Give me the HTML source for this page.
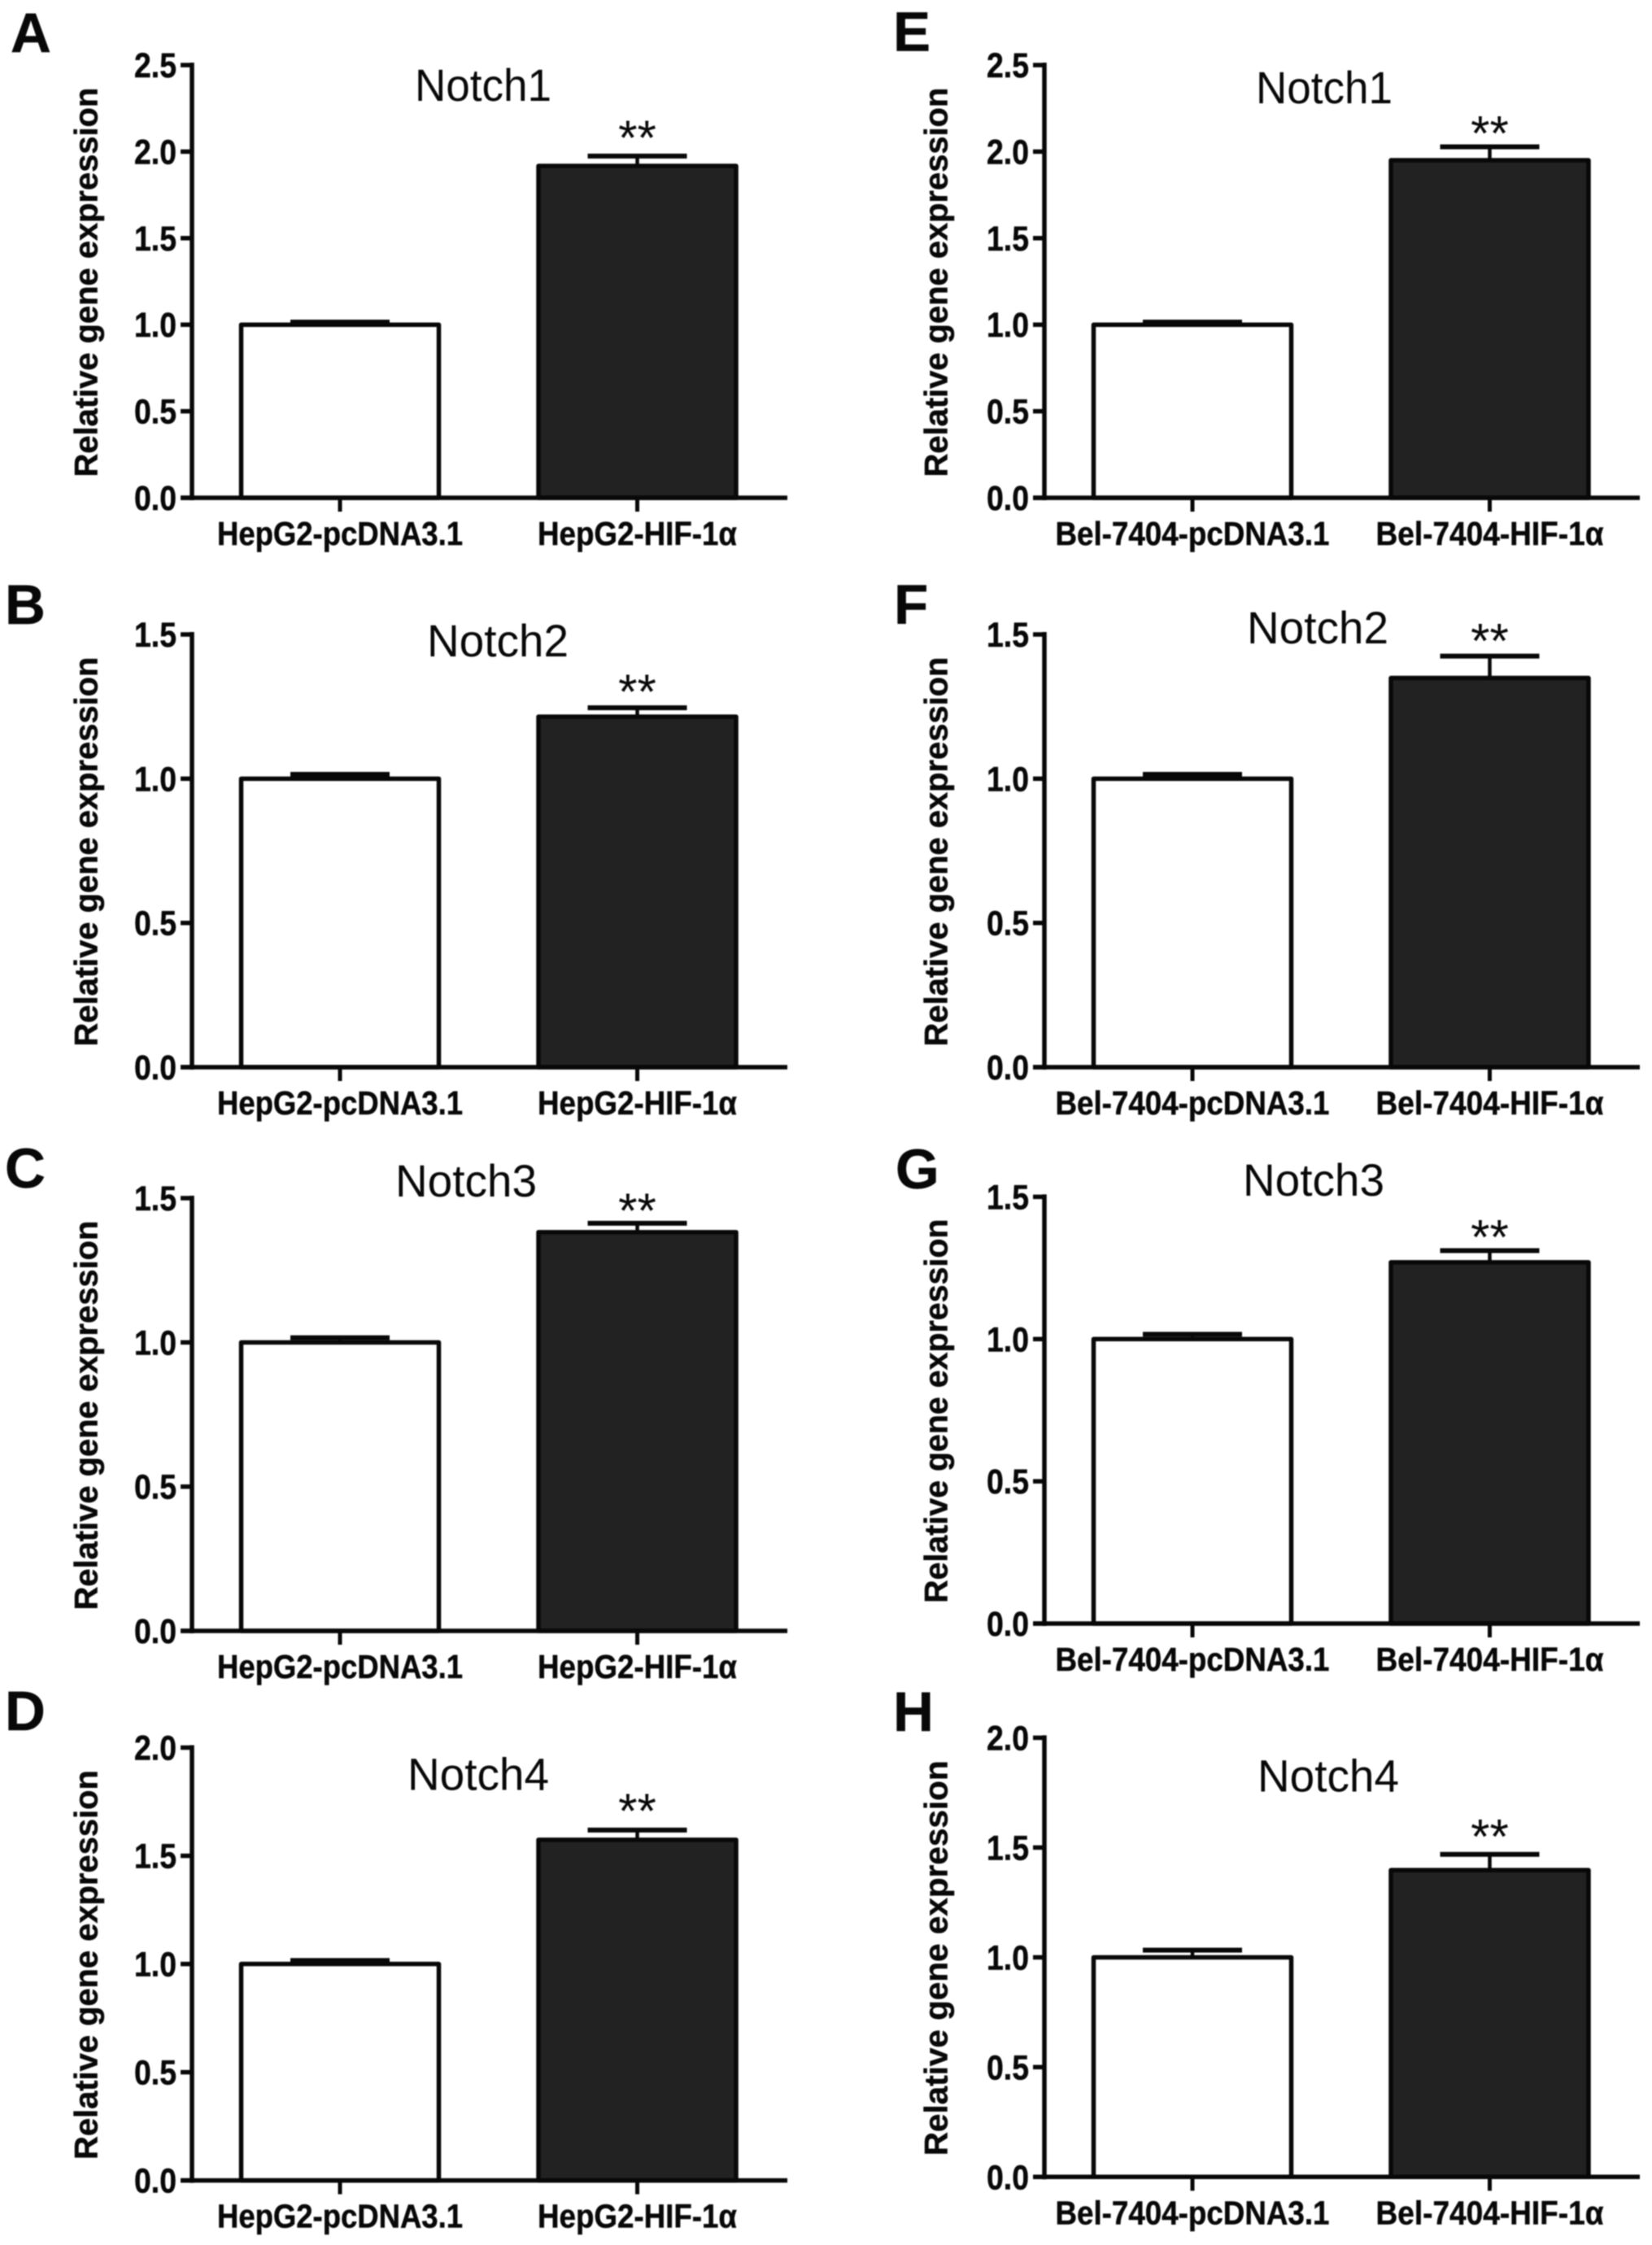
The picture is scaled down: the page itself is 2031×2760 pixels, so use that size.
<!DOCTYPE html>
<html lang="en">
<head>
<meta charset="utf-8">
<title>Relative Notch gene expression in HepG2 and Bel-7404 cells</title>
<style>
  html, body { margin: 0; padding: 0; background: #fff; }
  #figure { display: block; width: 2031px; height: 2760px; background: #fff; filter: blur(0.7px); }
  text { font-family: "Liberation Sans", Arial, sans-serif; fill: #080808; }
  .bold { font-weight: bold; stroke: #080808; stroke-width: 0.5px; }
</style>
</head>
<body>
<svg id="figure" xmlns="http://www.w3.org/2000/svg" width="2031" height="2760" viewBox="0 0 2031 2760"></svg>
<script>
// ---- chart data (panels A to H) ----
const panelLetters = ['A', 'B', 'C', 'D', 'E', 'F', 'G', 'H'];
const panelTitles = ['Notch1', 'Notch2', 'Notch3', 'Notch4', 'Notch1', 'Notch2', 'Notch3', 'Notch4'];
const axisMaxValues = [2.5, 1.5, 1.5, 2.0, 2.5, 1.5, 1.5, 2.0];
const tickLabels = [
  ['0.0', '0.5', '1.0', '1.5', '2.0', '2.5'],
  ['0.0', '0.5', '1.0', '1.5'],
  ['0.0', '0.5', '1.0', '1.5'],
  ['0.0', '0.5', '1.0', '1.5', '2.0'],
  ['0.0', '0.5', '1.0', '1.5', '2.0', '2.5'],
  ['0.0', '0.5', '1.0', '1.5'],
  ['0.0', '0.5', '1.0', '1.5'],
  ['0.0', '0.5', '1.0', '1.5', '2.0']
];
const hepG2Categories = ['HepG2-pcDNA3.1', 'HepG2-HIF-1α'];
const belCategories = ['Bel-7404-pcDNA3.1', 'Bel-7404-HIF-1α'];
const controlValues = [1.0, 1.0, 1.0, 1.0, 1.0, 1.0, 1.0, 1.0];
const controlErrors = [0.015, 0.015, 0.016, 0.016, 0.015, 0.015, 0.017, 0.033];
const hifValues = [1.917, 1.215, 1.382, 1.574, 1.95, 1.349, 1.27, 1.397];
const hifErrors = [0.057, 0.031, 0.031, 0.045, 0.078, 0.076, 0.041, 0.072];
const significanceMarks = ['**', '**', '**', '**', '**', '**', '**', '**'];
const yAxisTitle = 'Relative gene expression';

// ---- layout only (not data) ----
const plotTop = { A: 80, B: 780, C: 1473, D: 2148.5, E: 80, F: 780, G: 1471.4, H: 2136.4 };
const plotBase = { A: 612, B: 1312, C: 2005, D: 2680.6, E: 612, F: 1312, G: 1996, H: 2676.3 };
const titleAnchor = {
  A: [594, 124], B: [612, 807], C: [573, 1471], D: [588, 2200.5],
  E: [1628, 127], F: [1620, 791], G: [1615, 1470], H: [1633, 2202.7]
};
const letterAnchor = {
  A: [13, 64], B: [6, 767], C: [6, 1460], D: [6, 2127],
  E: [1098, 62.5], F: [1099, 767], G: [1101, 1461], H: [1098, 2128]
};
const starLift = { A: -2, B: 1, C: 5, D: -3, E: 4, F: 2, G: 4, H: -1 };
const labelWidths = { 'HepG2-pcDNA3.1': 302, 'HepG2-HIF-1α': 245, 'Bel-7404-pcDNA3.1': 337, 'Bel-7404-HIF-1α': 280 };

const SVG_NS = 'http://www.w3.org/2000/svg';
const figure = document.getElementById('figure');
const INK = '#080808';
const DARK_FILL = '#222';

function make(tag, attrs, parent, content) {
  const el = document.createElementNS(SVG_NS, tag);
  Object.keys(attrs).forEach(function (key) { el.setAttribute(key, attrs[key]); });
  if (content !== undefined) el.textContent = content;
  parent.appendChild(el);
  return el;
}

function drawPanel(index) {
  const letter = panelLetters[index];
  const key = letter.toLowerCase();
  const rightColumn = index >= 4;
  const shift = rightColumn ? 1048 : 0;
  const top = plotTop[letter];
  const base = plotBase[letter];
  const axisX = 236 + shift;
  const categories = rightColumn ? belCategories : hepG2Categories;

  // axis functions
  const yScale = function (v) { return base - (v / axisMaxValues[index]) * (base - top); };
  const xCenter = function (i) { return axisX + 182 + i * 365.5; };

  const group = make('g', {}, figure);
  
  

  const panelLetter = make('text', { x: letterAnchor[letter][0], y: letterAnchor[letter][1], 'font-size': 69, class: 'bold' }, group, letter);
  
  

  const title = make('text', {
    x: titleAnchor[letter][0], y: titleAnchor[letter][1], 'font-size': 56, 'text-anchor': 'middle',
    textLength: panelTitles[index].slice(-1) === '1' ? 168 : 174, lengthAdjust: 'spacingAndGlyphs'
  }, group, panelTitles[index]);
  
  

  const midY = (top + base) / 2 + 1;
  const yTitle = make('text', {
    x: 0, y: 0, 'font-size': 40, class: 'bold', 'text-anchor': 'middle',
    textLength: 0.9 * (base - top), lengthAdjust: 'spacingAndGlyphs',
    transform: 'translate(' + (119.5 + (rightColumn ? 1045 : 0)) + ' ' + midY + ') rotate(-90)'
  }, group, yAxisTitle);
  
  

  // bars
  const values = [controlValues[index], hifValues[index]];
  const errors = [controlErrors[index], hifErrors[index]];
  const barWidth = 243;
  values.forEach(function (value, i) {
    const cx = xCenter(i);
    const barTop = yScale(value);
    const capY = yScale(value + errors[i]);

    const stem = make('line', { x1: cx, x2: cx, y1: barTop, y2: capY, stroke: INK, 'stroke-width': 4.5 }, group);
    
    

    const cap = make('line', { x1: cx - 61, x2: cx + 61, y1: capY, y2: capY, stroke: INK, 'stroke-width': 6 }, group);
    
    

    const bar = make('rect', {
      x: cx - barWidth / 2, y: barTop, width: barWidth, height: base - barTop,
      fill: i === 0 ? '#fff' : DARK_FILL, stroke: INK, 'stroke-width': 5.5, 'stroke-linejoin': 'round'
    }, group);
    
    

    const tick = make('line', { x1: cx, x2: cx, y1: base, y2: base + 17, stroke: INK, 'stroke-width': 5 }, group);
    
    

    const label = make('text', {
      x: cx, y: base + 58, 'font-size': 41, class: 'bold', 'text-anchor': 'middle',
      textLength: labelWidths[categories[i]], lengthAdjust: 'spacingAndGlyphs'
    }, group, categories[i]);
    
    
  });

  // significance stars sit just above the error cap of the HIF bar
  const stars = make('text', {
    x: xCenter(1), y: yScale(hifValues[index] + hifErrors[index]) + starLift[letter],
    'font-size': 60, 'text-anchor': 'middle'
  }, group, significanceMarks[index]);
  
  

  // axes
  const yAxis = make('line', { x1: axisX, x2: axisX, y1: top - 3, y2: base + 3, stroke: INK, 'stroke-width': 5.5 }, group);
  
  

  const xAxis = make('line', { x1: axisX - 14, x2: axisX + 732, y1: base, y2: base, stroke: INK, 'stroke-width': 5.5 }, group);
  
  

  tickLabels[index].forEach(function (text) {
    const y = yScale(parseFloat(text));

    const tick = make('line', { x1: axisX - 14, x2: axisX, y1: y, y2: y, stroke: INK, 'stroke-width': 5.5 }, group);
    
    

    const label = make('text', {
      x: axisX - 19, y: y + 15, 'font-size': 43, class: 'bold', 'text-anchor': 'end',
      textLength: 52, lengthAdjust: 'spacingAndGlyphs'
    }, group, text);
    
    
  });
}

panelLetters.forEach(function (letter, index) { drawPanel(index); });
</script>
</body>
</html>
